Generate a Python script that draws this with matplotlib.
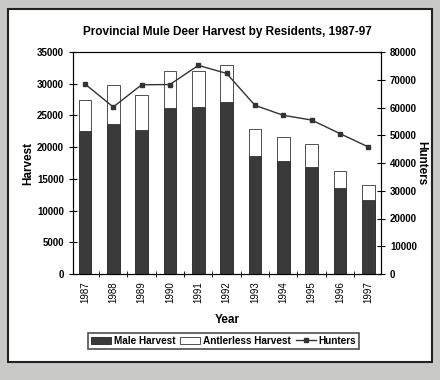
import matplotlib
matplotlib.use("Agg")
import matplotlib.pyplot as plt
from matplotlib.patches import Rectangle
import numpy as np

plt.rcParams['font.family'] = ['Liberation Sans', 'DejaVu Sans']
plt.rcParams['font.weight'] = 'bold'

years = ["1987", "1988", "1989", "1990", "1991", "1992", "1993", "1994", "1995", "1996", "1997"]
male = [22600, 23600, 22700, 26100, 26300, 27200, 18600, 17800, 16900, 13600, 11700]
antlerless = [4900, 6200, 5600, 5900, 5700, 5800, 4300, 3800, 3600, 2600, 2300]
hunters = [68500, 60200, 68200, 68300, 75200, 72300, 60800, 57200, 55500, 50600, 45800]

fig = plt.figure(figsize=(4.4, 3.8), dpi=100)
fig.patch.set_facecolor("#c9c9c7")
# white panel behind everything
fig.patches.append(Rectangle((0.018, 0.047), 0.964, 0.93, transform=fig.transFigure,
                             facecolor="white", edgecolor="#222222", linewidth=1.5, zorder=-10))

ax = fig.add_axes([0.166, 0.279, 0.700, 0.584])
ax.patch.set_alpha(0)
x = np.arange(len(years))
ax.bar(x, male, width=0.44, color="#3a3a3a", edgecolor="#222222", linewidth=0.6, label="Male Harvest")
ax.bar(x, antlerless, width=0.44, bottom=male, color="white", edgecolor="#333333",
       linewidth=0.6, label="Antlerless Harvest")
ax.set_xlim(-0.42, 10.45)
ax.set_ylim(0, 35000)
ax.set_yticks(range(0, 35001, 5000))
ax.set_xticks(x)
ax.set_xticklabels(years, rotation=90, fontsize=7, fontweight="normal")
ax.set_xticks(np.arange(0.5, 10.5, 1), minor=True)
ax.tick_params(axis="x", which="major", length=0, pad=5)
ax.tick_params(axis="x", which="minor", direction="inout", length=5)
ax.tick_params(axis="y", direction="inout", length=6, labelsize=7)
ax.set_ylabel("Harvest", fontsize=8.5, fontweight="bold", labelpad=2)
ax.set_xlabel("Year", fontsize=8.5, fontweight="bold", labelpad=8)
ax.set_title("Provincial Mule Deer Harvest by Residents, 1987-97", fontsize=8.5,
             fontweight="bold", pad=12)
for s in ax.spines.values():
    s.set_color("#333333")

ax2 = ax.twinx()
ax2.plot(x, hunters, color="#333333", linewidth=1.0, marker="s", markersize=3, label="Hunters")
ax2.set_ylim(0, 80000)
ax2.set_yticks(range(0, 80001, 10000))
ax2.tick_params(axis="y", direction="inout", length=6, labelsize=7)
ax2.set_ylabel("Hunters", fontsize=8.5, fontweight="bold", rotation=270, labelpad=7)

h1, l1 = ax.get_legend_handles_labels()
h2, l2 = ax2.get_legend_handles_labels()
leg = fig.legend(h1 + h2, l1 + l2, loc="center", bbox_to_anchor=(0.508, 0.103), ncol=3,
                 fontsize=7.2, frameon=True, fancybox=False, handlelength=2.0,
                 handletextpad=0.3, columnspacing=0.5, borderpad=0.3)
leg.get_frame().set_edgecolor("#222222")
leg.get_frame().set_linewidth(1.2)

fig.savefig("out.png", dpi=100, facecolor=fig.get_facecolor())
